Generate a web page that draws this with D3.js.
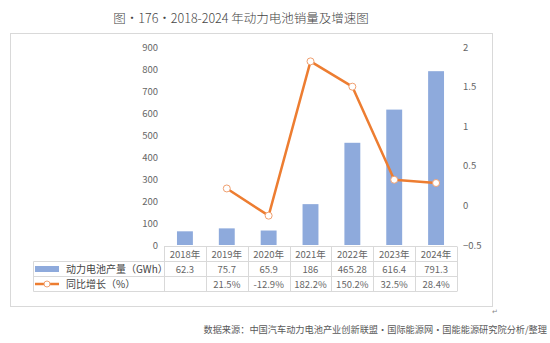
<!DOCTYPE html>
<html>
<head>
<meta charset="utf-8">
<script src="https://cdn.jsdelivr.net/npm/d3@7"></script>
<style>
  html, body { margin: 0; padding: 0; background: #fff; }
  svg { display: block; }
</style>
</head>
<body>
<svg id="chart" width="550" height="343"></svg>
<script>
// Annual power battery output and year-on-year growth, 2018–2024
const years = ["2018年", "2019年", "2020年", "2021年", "2022年", "2023年", "2024年"];
const output = [62.3, 75.7, 65.9, 186, 465.28, 616.4, 791.3];
const growth = [null, 0.215, -0.129, 1.822, 1.502, 0.325, 0.284];
const outputLabels = ["62.3", "75.7", "65.9", "186", "465.28", "616.4", "791.3"];
const growthLabels = ["", "21.5%", "-12.9%", "182.2%", "150.2%", "32.5%", "28.4%"];
const leftTicks = [0, 100, 200, 300, 400, 500, 600, 700, 800, 900];
const rightTicks = [-0.5, 0, 0.5, 1, 1.5, 2];
const seriesNames = ["动力电池产量（GWh）", "同比增长（%）"];
const title = "图·176·2018-2024 年动力电池销量及增速图";
const source = "数据来源：中国汽车动力电池产业创新联盟·国际能源网·国能能源研究院分析/整理";

const svg = d3.select("#chart");
const font = "'Noto Sans CJK SC', 'Noto Sans', sans-serif";
const barColor = "#8eaadc";
const lineColor = "#ed7d31";
const gridGray = "#d9d9d9";
const textGray = "#666";

// layout
const plot = { left: 164, right: 457, top: 47, bottom: 246 };
const rowH = 15;

const x = d3.scaleBand().domain(years).range([plot.left, plot.right]).paddingInner(0.62).paddingOuter(0.31);
const xCol = d3.scaleBand().domain(years).range([plot.left, plot.right]);
const yL = d3.scaleLinear().domain([0, 900]).range([245, 47.3]);
const yR = d3.scaleLinear().domain([-0.5, 2]).range([245, 47.3]);

// title
svg.append("text")
  .attr("x", 241).attr("y", 23)
  .attr("text-anchor", "middle")
  .attr("font-family", font).attr("font-size", 12.5).attr("font-weight", 300)
  .attr("fill", "#444")
  .text(title);

// outer frame
svg.append("rect")
  .attr("x", 10.5).attr("y", 33.5).attr("width", 482).attr("height", 273)
  .attr("fill", "none").attr("stroke", gridGray).attr("stroke-width", 1);

// left axis
const leftAxis = d3.axisLeft(yL).tickValues(leftTicks).tickSize(0).tickPadding(0);
const gL = svg.append("g").attr("transform", "translate(158,0)").call(leftAxis);
gL.select(".domain").remove();
gL.selectAll("text").attr("font-family", font).attr("font-size", 9.5).attr("fill", textGray);

// right axis
const rightAxis = d3.axisRight(yR).tickValues(rightTicks).tickSize(0).tickPadding(0)
  .tickFormat(d => d < 0 ? "−" + Math.abs(d) : String(d));
const gR = svg.append("g").attr("transform", "translate(463,0)").call(rightAxis);
gR.select(".domain").remove();
gR.selectAll("text").attr("font-family", font).attr("font-size", 9.5).attr("fill", textGray);

// bars
svg.append("g").selectAll("rect").data(years).join("rect")
  .attr("x", d => x(d))
  .attr("width", x.bandwidth())
  .attr("y", (d, i) => yL(output[i]))
  .attr("height", (d, i) => yL(0) - yL(output[i]))
  .attr("fill", barColor);

// growth line
const pts = years.map((d, i) => ({ year: d, v: growth[i] })).filter(p => p.v !== null);
const line = d3.line().x(p => xCol(p.year) + xCol.bandwidth() / 2).y(p => yR(p.v));
svg.append("path").datum(pts)
  .attr("d", line)
  .attr("fill", "none").attr("stroke", lineColor).attr("stroke-width", 2.5)
  .attr("stroke-linejoin", "round");
svg.append("g").selectAll("circle").data(pts).join("circle")
  .attr("cx", p => xCol(p.year) + xCol.bandwidth() / 2)
  .attr("cy", p => yR(p.v))
  .attr("r", 3.5)
  .attr("fill", "#fff").attr("stroke", "#f0a070").attr("stroke-width", 1);

// data table
const t = svg.append("g").attr("stroke", gridGray).attr("stroke-width", 1).attr("fill", "none");
const tTop = plot.bottom + 0.5;
const legLeft = 33.5;
// horizontal lines
t.append("line").attr("x1", plot.left).attr("x2", plot.right).attr("y1", tTop).attr("y2", tTop);
[1, 2, 3].forEach(r => {
  t.append("line").attr("x1", legLeft).attr("x2", plot.right)
    .attr("y1", tTop + r * rowH).attr("y2", tTop + r * rowH);
});
// vertical lines
years.forEach(d => {
  const xx = Math.round(xCol(d)) + 0.5;
  t.append("line").attr("x1", xx).attr("x2", xx).attr("y1", tTop).attr("y2", tTop + 3 * rowH);
});
t.append("line").attr("x1", plot.right + 0.5).attr("x2", plot.right + 0.5).attr("y1", tTop).attr("y2", tTop + 3 * rowH);
t.append("line").attr("x1", legLeft).attr("x2", legLeft).attr("y1", tTop + rowH).attr("y2", tTop + 3 * rowH);

const cellText = (row, labels) => svg.append("g").selectAll("text").data(years).join("text")
  .attr("x", d => xCol(d) + xCol.bandwidth() / 2)
  .attr("y", tTop + row * rowH + rowH / 2 + 3.5)
  .attr("text-anchor", "middle")
  .attr("font-family", font).attr("font-size", 9.5).attr("fill", textGray)
  .text((d, i) => labels[i]);
cellText(0, years);
cellText(1, outputLabels);
cellText(2, growthLabels);

// legend keys
const k1 = tTop + rowH + rowH / 2;
svg.append("rect").attr("x", 35).attr("y", k1 - 3).attr("width", 24).attr("height", 6).attr("fill", barColor);
const k2 = tTop + 2 * rowH + rowH / 2;
svg.append("line").attr("x1", 35).attr("x2", 59).attr("y1", k2).attr("y2", k2)
  .attr("stroke", lineColor).attr("stroke-width", 2.5);
svg.append("circle").attr("cx", 47).attr("cy", k2).attr("r", 3)
  .attr("fill", "#fff").attr("stroke", "#f0a070").attr("stroke-width", 1);
[k1, k2].forEach((ky, i) => {
  svg.append("text").attr("x", 66).attr("y", ky + 4)
    .attr("font-family", font).attr("font-size", 10).attr("fill", "#444")
    .text(seriesNames[i]);
});

// source note
svg.append("text")
  .attr("x", 547).attr("y", 333)
  .attr("text-anchor", "end")
  .attr("font-family", font).attr("font-size", 9.2)
  .attr("fill", "#595959")
  .text(source);

svg.append("text")
  .attr("x", 492).attr("y", 314)
  .attr("font-family", font).attr("font-size", 7)
  .attr("fill", "#888")
  .text("↵");
</script>
</body>
</html>
